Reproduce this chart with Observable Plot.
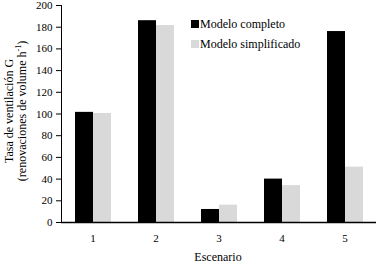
<!DOCTYPE html>
<html><head><meta charset="utf-8">
<script src="https://cdn.jsdelivr.net/npm/d3@7"></script>
<script src="https://cdn.jsdelivr.net/npm/@observablehq/plot@0.6"></script>
<style>
body{margin:0;background:#fff;}
#wrap{position:relative;width:380px;height:264px;font-family:"Liberation Serif","Times New Roman",serif;color:#000;}
#wrap svg{position:absolute;left:0;top:0;overflow:visible;}
.ylab{position:absolute;left:16px;top:111px;transform:translate(-50%,-50%) rotate(-90deg);white-space:nowrap;font-size:12px;line-height:13px;text-align:center;}
.xlab{position:absolute;left:218px;top:250px;transform:translateX(-50%);font-size:12px;white-space:nowrap;}
.legend{position:absolute;left:191px;top:14px;font-size:12px;line-height:20px;}
.legend .sw{display:inline-block;width:8px;height:8px;margin-right:1px;vertical-align:0px;}
</style></head>
<body><div id="wrap"></div>
<script>
const scenarios = ["1","2","3","4","5"];
const models = ["Modelo completo","Modelo simplificado"];
const completo = [101.5, 186, 12, 40, 176];
const simplificado = [100.5, 181.5, 16, 34, 51];
const colors = ["#000000","#d9d9d9"];
const yTicks = [0,20,40,60,80,100,120,140,160,180,200];

const data = [];
scenarios.forEach((s,i)=>{
  data.push({scenario:s, model:models[0], value:completo[i]});
  data.push({scenario:s, model:models[1], value:simplificado[i]});
});

const chart = Plot.plot({
  width:380, height:264,
  marginLeft:59, marginRight:2, marginTop:5, marginBottom:42,
  style:{fontFamily:'"Liberation Serif","Times New Roman",serif', fontSize:"11px", color:"#000", background:"transparent", overflow:"visible"},
  fx:{domain:scenarios, paddingInner:0, paddingOuter:0, label:null, tickSize:0, tickPadding:12},
  x:{domain:models, axis:null, paddingInner:0, paddingOuter:0.72},
  y:{domain:[0,200], ticks:yTicks, tickFormat:d=>String(d), tickSize:5, tickPadding:4, label:null, line:true},
  color:{domain:models, range:colors},
  marks:[
    Plot.barY(data,{fx:"scenario", x:"model", y:"value", fill:"model"}),
    Plot.ruleY([0],{stroke:"#000", strokeWidth:1.5})
  ]
});
const wrap = document.getElementById("wrap");
wrap.appendChild(chart);
d3.select(chart).selectAll("g[aria-label='y-axis'] path, g[aria-label='y-axis'] line").attr("stroke-width",1.5);

const yl = document.createElement("div");
yl.className="ylab";
yl.innerHTML = "Tasa de ventilación G<br>(renovaciones de volume h<sup style='font-size:8px;line-height:0'>-1</sup>)";
wrap.appendChild(yl);
const xl = document.createElement("div");
xl.className="xlab"; xl.textContent="Escenario";
wrap.appendChild(xl);
const lg = document.createElement("div");
lg.className="legend";
lg.innerHTML = models.map((m,i)=>`<div><span class="sw" style="background:${colors[i]}"></span>${m}</div>`).join("");
wrap.appendChild(lg);
</script></body></html>
